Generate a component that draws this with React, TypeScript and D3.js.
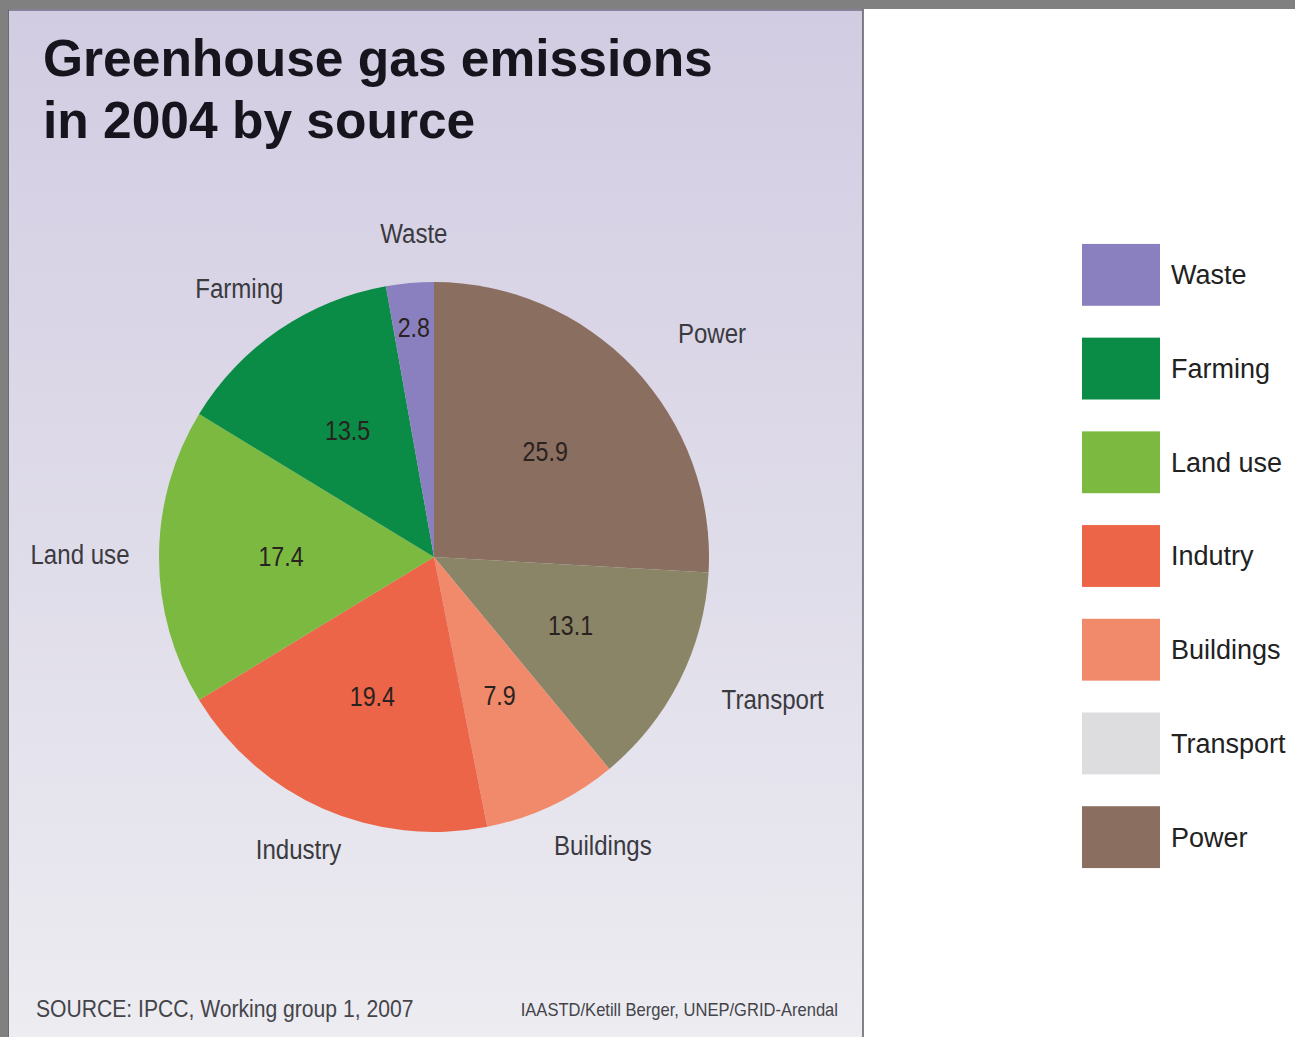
import React from "react";
import * as d3 from "d3";

// Emission shares in 2004, clockwise from 12 o'clock
const sources = ["Power", "Transport", "Buildings", "Industry", "Land use", "Farming", "Waste"];
const shares = [25.9, 13.1, 7.9, 19.4, 17.4, 13.5, 2.8];
const sliceColors = ["#8a6e60", "#8a8567", "#f08a6b", "#ec6548", "#7cb940", "#0a8c46", "#8b80bf"];

// Legend entries (top to bottom) and their swatch colours
const legendLabels = ["Waste", "Farming", "Land use", "Indutry", "Buildings", "Transport", "Power"];
const legendColors = ["#8b80bf", "#0a8c46", "#7cb940", "#ec6548", "#f08a6b", "#dddde0", "#8a6e60"];

const titleLines = ["Greenhouse gas emissions", "in 2004 by source"];
const sourceNote = "SOURCE: IPCC, Working group 1, 2007";
const creditNote = "IAASTD/Ketill Berger, UNEP/GRID-Arendal";

const W = 1295;
const H = 1037;
const CX = 434;
const CY = 557;
const R = 275;
const SANS = "'Liberation Sans', Arial, Helvetica, sans-serif";

// Horizontally condensed text, anchored at (x, y)
function Narrow({ x, y, squeeze = 0.86, children, ...rest }: any) {
  return (
    <text transform={`translate(${x},${y}) scale(${squeeze},1)`} fontFamily={SANS} {...rest}>
      {children}
    </text>
  );
}

export default function App() {
  const data = sources.map((name, i) => ({ name, value: shares[i], color: sliceColors[i] }));
  const pie = d3.pie<any>().sort(null).value((d) => d.value);
  const arcs = pie(data);
  const arc = d3.arc<any>().innerRadius(0).outerRadius(R);

  const mid = (a: any) => (a.startAngle + a.endAngle) / 2;

  const legendY = d3.scaleBand<string>().domain(legendLabels).range([228, 884]).paddingInner(0.34).paddingOuter(0.17);

  return (
    <svg width={W} height={H} style={{ position: "absolute", left: 0, top: 0, display: "block" }}>
      <defs>
        <linearGradient id="panelBg" x1="0" y1="0" x2="0" y2="1">
          <stop offset="0" stopColor="#d2cce2" />
          <stop offset="0.55" stopColor="#e0ddea" />
          <stop offset="1" stopColor="#ececf1" />
        </linearGradient>
      </defs>
      <rect x={0} y={0} width={W} height={H} fill="#ffffff" />
      <rect x={0} y={0} width={W} height={9} fill="#808080" />
      <rect x={0} y={0} width={8} height={H} fill="#808080" />
      <rect x={8} y={9} width={855} height={H - 9} fill="url(#panelBg)" />
      <line x1={863} y1={9} x2={863} y2={H} stroke="#5a5a66" strokeWidth={1.5} />
      <line x1={8} y1={10} x2={863} y2={10} stroke="#6f6a80" strokeWidth={1.5} />
      <line x1={8.5} y1={9} x2={8.5} y2={H} stroke="#6a6a70" strokeWidth={1} />

      {titleLines.map((t, i) => (
        <text key={t} x={43} y={76 + i * 62} fontFamily={SANS} fontWeight="bold" fontSize={51.5} fill="#16141c">
          {t}
        </text>
      ))}

      <g transform={`translate(${CX},${CY})`}>
        {arcs.map((a) => (
          <path key={a.data.name} d={arc(a) as string} fill={a.data.color} />
        ))}
        {arcs.map((a) => {
          const ang = mid(a);
          const r = a.data.value < 5 ? 230 : 153;
          return (
            <Narrow
              key={"v" + a.data.name}
              x={r * Math.sin(ang)}
              y={-r * Math.cos(ang)}
              dy="0.35em"
              textAnchor="middle"
              fontSize={27}
              fill="#2a2220"
            >
              {a.data.value.toFixed(1)}
            </Narrow>
          );
        })}
        {/* category names sit on an ellipse around the pie */}
        {arcs.map((a) => {
          const ang = mid(a);
          return (
            <Narrow
              key={"n" + a.data.name}
              x={12 + 366 * Math.sin(ang)}
              y={-3 - 322 * Math.cos(ang)}
              dy="0.35em"
              textAnchor="middle"
              fontSize={28}
              fill="#3a3a40"
            >
              {a.data.name}
            </Narrow>
          );
        })}
      </g>

      <Narrow x={36} y={1017} squeeze={0.88} fontSize={24} fill="#44444a">
        {sourceNote}
      </Narrow>
      <Narrow x={838} y={1016} squeeze={0.92} textAnchor="end" fontSize={18} fill="#44444a">
        {creditNote}
      </Narrow>

      {legendLabels.map((l, i) => (
        <g key={l}>
          <rect x={1082} y={legendY(l)} width={78} height={legendY.bandwidth()} fill={legendColors[i]} />
          <text
            x={1171}
            y={(legendY(l) as number) + legendY.bandwidth() / 2}
            dy="0.35em"
            fontFamily={SANS}
            fontSize={27}
            fill="#222"
          >
            {l}
          </text>
        </g>
      ))}
    </svg>
  );
}
